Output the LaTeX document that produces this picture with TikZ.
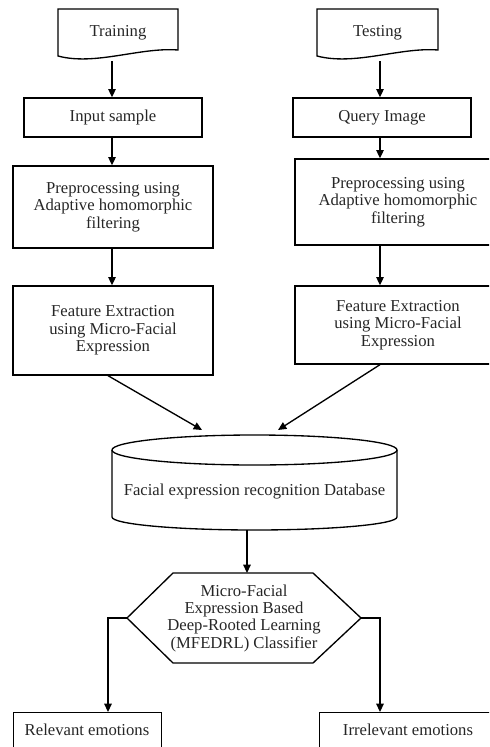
\documentclass[tikz,border=0pt]{standalone}
\usepackage{fontspec}
\setmainfont{Liberation Serif}
\usetikzlibrary{arrows.meta,calc}
\begin{document}
\begin{tikzpicture}[x=0.6pt,y=-0.6pt,
  every node/.style={font=\fontsize{10}{10.4}\selectfont, text=black!85, align=center, inner sep=0pt},
  box/.style={draw, rectangle, line width=0.8pt},
  nobox/.style={rectangle},
  shp/.style={draw, line width=0.8pt},
  arr/.style={draw, line width=0.8pt, -{Triangle[length=5pt,width=4.5pt]}},
  ln/.style={draw, line width=0.8pt}]
\useasboundingbox (0,0) rectangle (489,747);
\clip (0,0) rectangle (489,747);
% documents
\node[nobox, minimum width=120*0.6pt, minimum height=47*0.6pt] (train) at (118,32.5) {Training};
\draw[shp] (58,56) -- (58,9) -- (178,9) -- (178,50) .. controls (140,47) and (95,66) .. cycle;
\node[nobox, minimum width=121*0.6pt, minimum height=47*0.6pt] (test) at (377.5,32.5) {Testing};
\draw[shp] (317,56) -- (317,9) -- (438,9) -- (438,50) .. controls (400,47) and (355,66) .. cycle;
\coordinate (trainb) at (112,61);
\coordinate (testb) at (380,61);
% boxes
\node[box, minimum width=178*0.6pt, minimum height=39*0.6pt] (input) at (113,117.5) {Input sample};
\node[box, minimum width=178*0.6pt, minimum height=39*0.6pt] (query) at (382,117.5) {Query Image};
\node[box, minimum width=200*0.6pt, minimum height=82*0.6pt] (pre1) at (113,207) {Preprocessing using\\Adaptive homomorphic\\filtering};
\node[box, minimum width=206*0.6pt, minimum height=86*0.6pt] (pre2) at (398,202) {Preprocessing using\\Adaptive homomorphic\\filtering};
\node[box, minimum width=200*0.6pt, minimum height=89*0.6pt] (feat1) at (113,330.5) {Feature Extraction\\using Micro-Facial\\Expression};
\node[box, minimum width=206*0.6pt, minimum height=78*0.6pt] (feat2) at (398,325) {Feature Extraction\\using Micro-Facial\\Expression};
% database cylinder
\node[nobox] (db) at (254.5,492) {Facial expression recognition Database};
\draw[shp] (254.5,450) ellipse [x radius=142.5*0.6pt, y radius=15*0.6pt];
\draw[shp] (112,450) -- (112,517) arc[start angle=180, end angle=360, x radius=142.5*0.6pt, y radius=13*0.6pt] -- (397,450);
\coordinate (dbL) at (202,430);
\coordinate (dbR) at (278,430);
\coordinate (dbB) at (247,530);
% classifier hexagon
\node[nobox] (cls) at (244,618) {Micro-Facial\\Expression Based\\Deep-Rooted Learning\\(MFEDRL) Classifier};
\coordinate (h1) at (173,573);
\coordinate (h2) at (313,573);
\coordinate (h3) at (361,618);
\coordinate (h4) at (313,663);
\coordinate (h5) at (173,663);
\coordinate (h6) at (127,618);
\draw[shp] (h1) -- (h2) -- (h3) -- (h4) -- (h5) -- (h6) -- cycle;
\coordinate (clsT) at (247,573);
% outputs
\node[box, minimum width=148*0.6pt, minimum height=60*0.6pt, anchor=north west] (rel) at (13,712) {};
\node at (87,730) {Relevant emotions};
\node[box, minimum width=190*0.6pt, minimum height=60*0.6pt, anchor=north west] (irr) at (319,712) {};
\node at (408,730) {Irrelevant emotions};
% connectors
\draw[arr] (trainb) -- (trainb |- input.north);
\draw[arr] (testb) -- (testb |- query.north);
\draw[arr] (input.south -| trainb) -- (trainb |- pre1.north);
\draw[arr] (query.south -| testb) -- (testb |- pre2.north);
\draw[arr] (pre1.south -| trainb) -- (trainb |- feat1.north);
\draw[arr] (pre2.south -| testb) -- (testb |- feat2.north);
\draw[arr] ($(feat1.south)+(-5,0)$) -- (dbL);
\draw[arr] (feat2.south -| testb) -- (dbR);
\draw[arr] (dbB) -- (clsT);
\draw[arr] (h6) -- (108,618) -- (108,712);
\draw[arr] (h3) -- (380,618) -- (380,712);
\end{tikzpicture}
\end{document}
